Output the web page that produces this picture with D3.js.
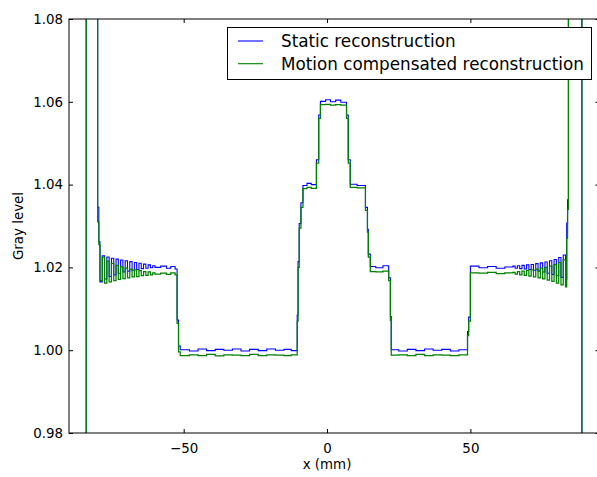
<!DOCTYPE html>
<html>
<head>
<meta charset="utf-8">
<script src="https://cdn.jsdelivr.net/npm/d3@7"></script>
<style>
  body { margin: 0; background: #fff; }
  svg { display: block; font-family: "DejaVu Sans", sans-serif; }
</style>
</head>
<body>
<svg id="chart"></svg>
<script>
// Profile samples (x in mm), step plot: each value holds until the next x
const xPos = [
  -95, -84, -80.0, -79.6,
  -79.2, -78.4, -77.6, -76.8, -76.0, -75.2, -74.4, -73.6, -72.8, -72.0, -71.2, -70.4,
  -69.6, -68.8, -68.0, -67.2, -66.4, -65.6, -64.8, -64.0, -63.2, -62.4, -61.6, -60.8, -60.0,
  -58.0, -56.0, -54.5, -53.0, -52.3, -51.8, -51.2,
  -48, -45, -42, -39, -36, -33, -30, -27, -24, -21, -18, -15, -12.5,
  -10.4, -10.1, -9.7, -9.1, -8.4, -7.0, -5.5,
  -3.7, -2.9, -2.3, -0.5, 1.2, 3.0, 4.8,
  6.8, 7.4, 8.1, 10.5,
  13.4, 14.1, 14.4, 15.1, 17.0, 19.5,
  21.5, 22.1, 22.4, 25, 28, 31, 34, 37, 40, 43, 46,
  49.0, 49.4, 50.0, 53, 56, 59, 62,
  64.8, 65.6, 66.4, 67.2, 68.0, 68.8, 69.6, 70.4, 71.2, 72.0, 72.8, 73.6,
  74.4, 75.2, 76.0, 76.8, 77.6, 78.4, 79.2, 80.0, 80.8, 81.6, 82.4, 83.2,
  83.6, 83.9, 84.2, 88.9, 95
];

const staticLevel = [
  0.70, 1.30, 1.0345, 1.0262,
  1.0165, 1.0228, 1.0172, 1.0225, 1.0178, 1.0222, 1.0182, 1.0220, 1.0186, 1.0218, 1.0189, 1.0216,
  1.0191, 1.0214, 1.0193, 1.0212, 1.0195, 1.0210, 1.0197, 1.0208, 1.0198, 1.0206, 1.0199, 1.0204, 1.0200,
  1.0203, 1.0198, 1.0202, 1.0196, 1.0073, 1.0010, 1.0001,
  0.9998, 1.0003, 0.9999, 1.0002, 1.0000, 1.0003, 0.9998, 1.0002, 0.9999, 1.0003, 1.0000, 1.0002, 0.9999,
  1.0085, 1.0214, 1.0306, 1.0356, 1.0398, 1.0403, 1.0400,
  1.0460, 1.0568, 1.0601, 1.0605, 1.0600, 1.0604, 1.0599,
  1.0568, 1.0460, 1.0401, 1.0398,
  1.0345, 1.0292, 1.0232, 1.0202, 1.0199, 1.0204,
  1.0175, 1.0081, 1.0001, 0.9998, 1.0002, 0.9999, 1.0003, 1.0000, 1.0002, 0.9998, 1.0001,
  1.0045, 1.0080, 1.0203, 1.0199, 1.0202, 1.0198, 1.0201,
  1.0203, 1.0198, 1.0204, 1.0197, 1.0205, 1.0196, 1.0206, 1.0195, 1.0207, 1.0193, 1.0209, 1.0191,
  1.0211, 1.0189, 1.0213, 1.0186, 1.0216, 1.0183, 1.0219, 1.0180, 1.0224, 1.0176, 1.0230, 1.0171,
  1.0307, 1.0363, 1.30, 0.70, 0.70
];

const motionLevel = [
  0.70, 1.30, 1.0310, 1.0255,
  1.0168, 1.0225, 1.0162, 1.0215, 1.0165, 1.0210, 1.0168, 1.0205, 1.0171, 1.0201, 1.0173, 1.0198,
  1.0175, 1.0196, 1.0177, 1.0194, 1.0178, 1.0192, 1.0180, 1.0190, 1.0181, 1.0189, 1.0182, 1.0187, 1.0184,
  1.0186, 1.0183, 1.0187, 1.0182, 1.0065, 0.9996, 0.9987,
  0.9989, 0.9987, 0.9990, 0.9986, 0.9989, 0.9988, 0.9987, 0.9990, 0.9987, 0.9989, 0.9988, 0.9987, 0.9989,
  1.0070, 1.0200, 1.0295, 1.0345, 1.0390, 1.0393, 1.0391,
  1.0452, 1.0560, 1.0593, 1.0594, 1.0592, 1.0593, 1.0592,
  1.0560, 1.0452, 1.0393, 1.0392,
  1.0338, 1.0285, 1.0225, 1.0190, 1.0189, 1.0191,
  1.0168, 1.0072, 0.9988, 0.9989, 0.9987, 0.9990, 0.9987, 0.9989, 0.9988, 0.9987, 0.9989,
  1.0035, 1.0070, 1.0187, 1.0186, 1.0188, 1.0185, 1.0187,
  1.0188, 1.0184, 1.0190, 1.0182, 1.0191, 1.0181, 1.0193, 1.0179, 1.0194, 1.0177, 1.0196, 1.0175,
  1.0198, 1.0172, 1.0200, 1.0169, 1.0203, 1.0166, 1.0207, 1.0162, 1.0212, 1.0158, 1.0218, 1.0153,
  1.0270, 1.0340, 1.30, 0.70, 0.70
];

const seriesNames = ["Static reconstruction", "Motion compensated reconstruction"];
const seriesColors = ["#0000ff", "#008000"];

const xTicks = [-50, 0, 50];
const yTicks = [0.98, 1.00, 1.02, 1.04, 1.06, 1.08];

// Figure size and plot frame
const width = 597;
const height = 477;
const margin = { top: 19, left: 69, bottom: 44 };
const plotBottom = height - margin.bottom;

const svg = d3.select("#chart")
  .attr("width", width)
  .attr("height", height);

const x = d3.scaleLinear()
  .domain([-90, 95])
  .range([margin.left, margin.left + 185 * 2.867]);

const y = d3.scaleLinear()
  .domain([0.98, 1.08])
  .range([plotBottom, margin.top]);

const plotRight = x(95);

svg.append("clipPath")
  .attr("id", "plot-clip")
  .append("rect")
  .attr("x", margin.left)
  .attr("y", margin.top)
  .attr("width", plotRight - margin.left)
  .attr("height", plotBottom - margin.top);

// Build series rows from the arrays
const series = [staticLevel, motionLevel].map((vals, i) => ({
  name: seriesNames[i],
  color: seriesColors[i],
  points: xPos.map((xv, j) => [xv, vals[j]])
}));

const line = d3.line()
  .x(d => x(d[0]))
  .y(d => y(d[1]))
  .curve(d3.curveStepAfter);

svg.append("g")
  .attr("clip-path", "url(#plot-clip)")
  .selectAll("path")
  .data(series)
  .enter()
  .append("path")
  .attr("d", d => line(d.points))
  .attr("fill", "none")
  .attr("stroke", d => d.color)
  .attr("stroke-width", (d, i) => i === 1 ? 1.25 : 1.1);

// Axes: ticks inside, on all four sides (classic matplotlib look)
const fmtY = d3.format(".2f");
const fmtX = d => d < 0 ? "\u2212" + Math.abs(d) : String(d);

svg.append("g")
  .attr("transform", `translate(0,${plotBottom})`)
  .call(d3.axisBottom(x).tickValues(xTicks).tickSize(-4).tickPadding(10).tickFormat(fmtX))
  .call(g => g.select(".domain").remove());

svg.append("g")
  .attr("transform", `translate(0,${margin.top})`)
  .call(d3.axisTop(x).tickValues(xTicks).tickSize(-4).tickFormat(""))
  .call(g => g.select(".domain").remove());

svg.append("g")
  .attr("transform", `translate(${margin.left},0)`)
  .call(d3.axisLeft(y).tickValues(yTicks).tickSize(-4).tickPadding(6).tickFormat(fmtY))
  .call(g => g.select(".domain").remove());

svg.append("g")
  .attr("transform", `translate(${plotRight},0)`)
  .call(d3.axisRight(y).tickValues(yTicks).tickSize(-4).tickFormat(""))
  .call(g => g.select(".domain").remove());

svg.selectAll(".tick text")
  .attr("font-family", "DejaVu Sans, sans-serif")
  .attr("font-size", 13.4)
  .attr("fill", "#000");
svg.selectAll(".tick line").attr("stroke", "#000");

// Frame
svg.append("rect")
  .attr("x", margin.left)
  .attr("y", margin.top)
  .attr("width", plotRight - margin.left)
  .attr("height", plotBottom - margin.top)
  .attr("fill", "none")
  .attr("stroke", "#000")
  .attr("stroke-width", 1);

// Axis labels
svg.append("text")
  .attr("x", x(0))
  .attr("y", 469)
  .attr("text-anchor", "middle")
  .attr("font-size", 13.4)
  .text("x (mm)");

svg.append("text")
  .attr("transform", `translate(23,${(margin.top + plotBottom) / 2}) rotate(-90)`)
  .attr("text-anchor", "middle")
  .attr("font-size", 13.4)
  .text("Gray level");

// Legend
const legend = svg.append("g");
legend.append("rect")
  .attr("x", 227.5)
  .attr("y", 27.5)
  .attr("width", 364)
  .attr("height", 52)
  .attr("fill", "#fff")
  .attr("stroke", "#000");

const rows = legend.selectAll("g.row")
  .data(series)
  .enter()
  .append("g")
  .attr("class", "row")
  .attr("transform", (d, i) => `translate(0,${41 + i * 22.7})`);

rows.append("line")
  .attr("x1", 238)
  .attr("x2", 263)
  .attr("stroke", d => d.color)
  .attr("stroke-width", 1.1);

rows.append("text")
  .attr("x", 281)
  .attr("dy", "0.36em")
  .attr("font-size", 16.8)
  .text(d => d.name);
</script>
</body>
</html>
